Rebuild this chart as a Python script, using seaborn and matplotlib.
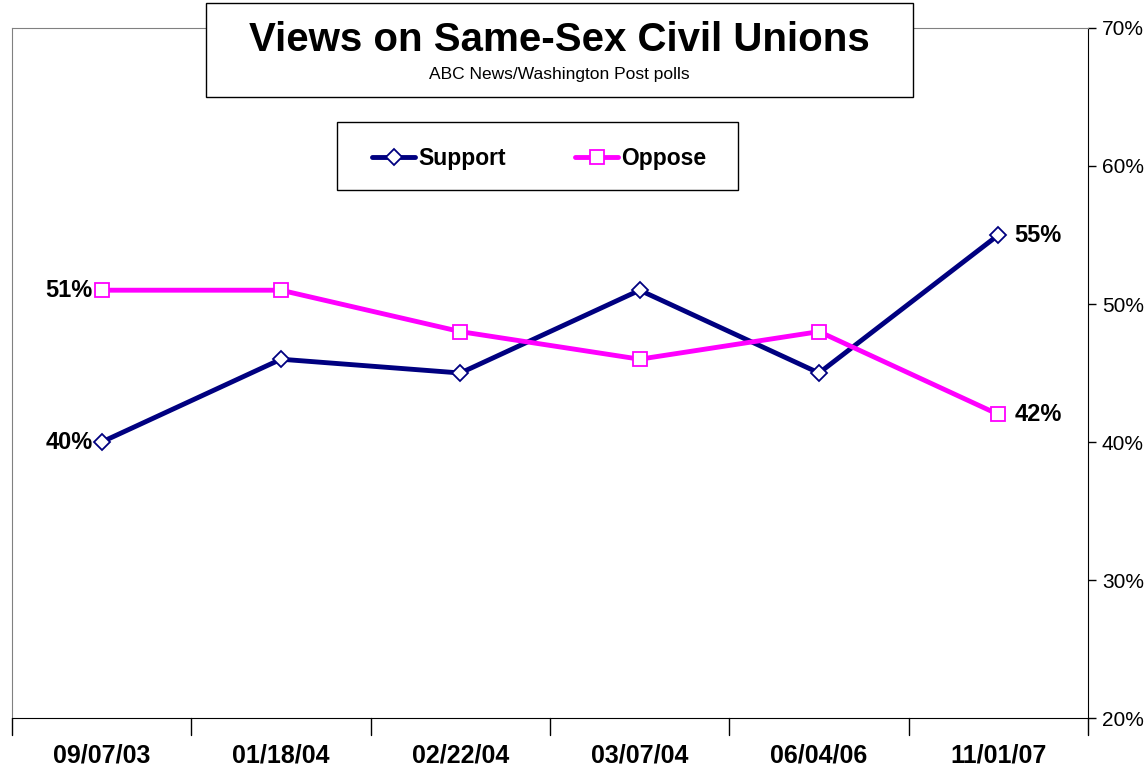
import matplotlib
matplotlib.use("Agg")
import matplotlib.pyplot as plt
import seaborn as sns
import pandas as pd
from matplotlib.patches import Rectangle
from matplotlib.ticker import PercentFormatter

dates = ["09/07/03", "01/18/04", "02/22/04", "03/07/04", "06/04/06", "11/01/07"]
support = [40, 46, 45, 51, 45, 55]
oppose = [51, 51, 48, 46, 48, 42]

sns.set_style("white")
plt.rcParams['font.family'] = ['Liberation Sans', 'DejaVu Sans']
plt.rcParams['text.color'] = 'black'
plt.rcParams['xtick.color'] = 'black'
plt.rcParams['ytick.color'] = 'black'

df = pd.DataFrame({"date": dates * 2,
                   "value": support + oppose,
                   "series": ["Support"] * 6 + ["Oppose"] * 6})

fig = plt.figure(figsize=(11.46, 7.71), dpi=100)
ax = fig.add_axes([0.0105, 0.0687, 0.9389, 0.895])

colors = {"Support": "#000080", "Oppose": "#FF00FF"}
sns.lineplot(data=df, x="date", y="value", hue="series", style="series",
             palette=colors, markers={"Support": "D", "Oppose": "s"},
             dashes=False, sort=False, linewidth=3.5, markersize=10,
             markerfacecolor="white", markeredgewidth=1.3, ax=ax, legend=False)
for line, name in zip(ax.lines, ["Support", "Oppose"]):
    line.set_markeredgecolor(colors[name])
    if name == "Support":
        line.set_markersize(8)

ax.set_xlim(-0.5, 5.5)
ax.set_ylim(20, 70)
ax.yaxis.tick_right()
ax.yaxis.set_major_formatter(PercentFormatter(decimals=0))
ax.set_yticks([20, 30, 40, 50, 60, 70])
ax.tick_params(axis="y", direction="out", length=6, width=1, colors="black",
               labelsize=15, pad=4, right=True, left=False)
ax.set_xticks(range(6))
ax.set_xticklabels(dates, fontweight="bold", fontsize=18)
ax.tick_params(axis="x", length=0, pad=18)
for k in range(7):
    ax.plot([k - 0.5, k - 0.5], [0, -0.025], transform=ax.get_xaxis_transform(),
            color="black", lw=1, clip_on=False)
ax.set_xlabel("")
ax.set_ylabel("")
ax.spines["left"].set_color("#808080")
ax.spines["top"].set_color("#808080")
ax.spines["right"].set_color("black")
ax.spines["bottom"].set_color("black")

# data labels at ends
lab = dict(fontsize=17, fontweight="bold", va="center")
ax.text(-0.05, support[0], f"{support[0]}%", ha="right", **lab)
ax.text(-0.05, oppose[0], f"{oppose[0]}%", ha="right", **lab)
ax.text(5.09, support[5], f"{support[5]}%", ha="left", **lab)
ax.text(5.09, oppose[5], f"{oppose[5]}%", ha="left", **lab)

# title box
fig.patches.append(Rectangle((206 / 1146, 1 - 97 / 771), 707 / 1146, 94 / 771,
                             transform=fig.transFigure, facecolor="white",
                             edgecolor="black", lw=1, zorder=5))
fig.text(559 / 1146, 1 - 40 / 771, "Views on Same-Sex Civil Unions", ha="center",
         va="center", fontsize=29, fontweight="bold", zorder=6)
fig.text(559 / 1146, 1 - 75 / 771, "ABC News/Washington Post polls", ha="center",
         va="center", fontsize=12.5, zorder=6)

# legend box
fig.patches.append(Rectangle((337 / 1146, 1 - 190 / 771), 401 / 1146, 68 / 771,
                             transform=fig.transFigure, facecolor="white",
                             edgecolor="black", lw=1, zorder=5))
for x0, name, mk, ms in [(372, "Support", "D", 8), (575, "Oppose", "s", 10)]:
    fig.lines.append(plt.Line2D([x0 / 1146, (x0 + 43) / 1146], [1 - 157 / 771] * 2,
                                transform=fig.transFigure, color=colors[name], lw=3.5,
                                zorder=6))
    fig.lines.append(plt.Line2D([(x0 + 21.5) / 1146], [1 - 157 / 771],
                                transform=fig.transFigure, color=colors[name], lw=0,
                                marker=mk, markersize=ms, markerfacecolor="white",
                                markeredgecolor=colors[name], markeredgewidth=1.3, zorder=7))
    fig.text((x0 + 46) / 1146, 1 - 158 / 771, name, ha="left", va="center",
             fontsize=16.5, fontweight="bold", zorder=6)

fig.savefig("out.png", dpi=100)
